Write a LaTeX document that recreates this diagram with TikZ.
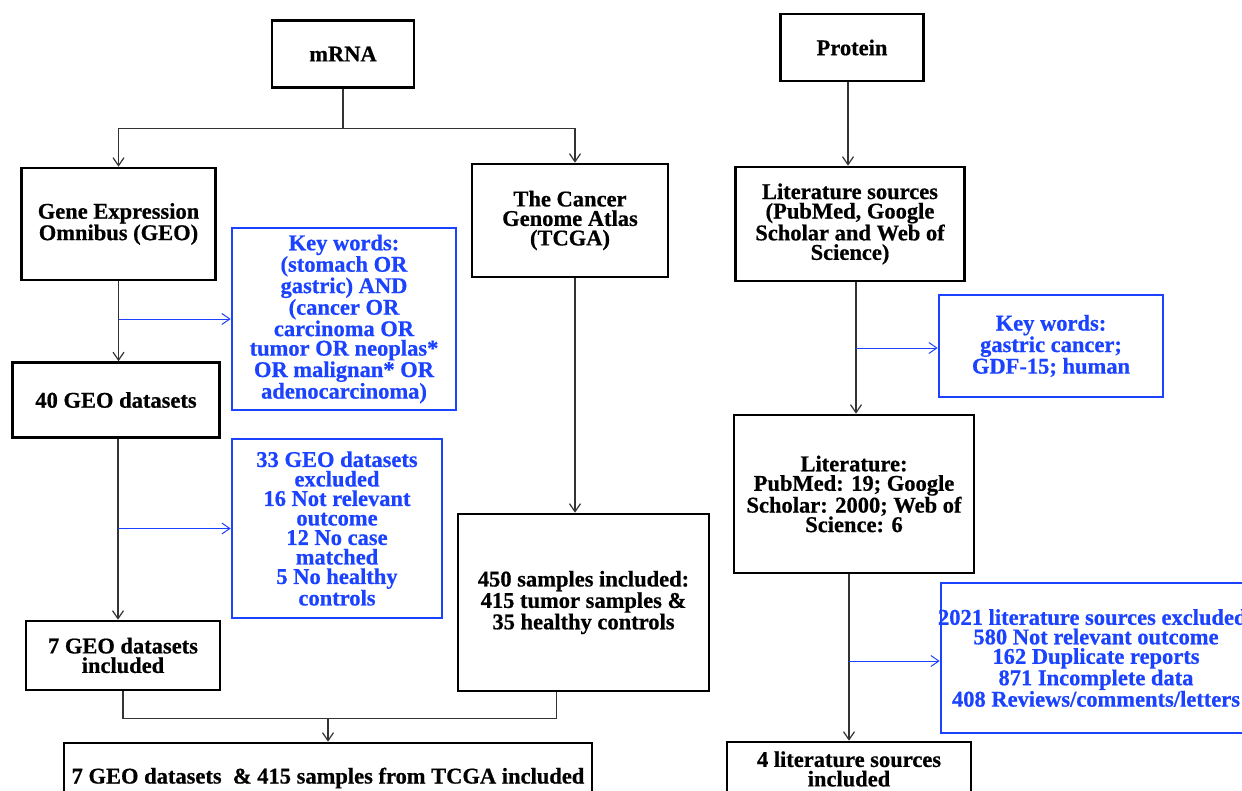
\documentclass[tikz,border=0pt]{standalone}
\usepackage{fontspec}
\setmainfont{Liberation Serif}[BoldFeatures={FakeBold=0.6}]
\usepackage{tikz}
\usetikzlibrary{arrows.meta, positioning}

\definecolor{keyblue}{RGB}{26,66,255}

\begin{document}
\begin{tikzpicture}[
  x=1pt, y=-1pt,
  box/.style     = {draw=black, line width=2.6pt, align=center,
                    font=\fontsize{22.5}{19.5}\selectfont\bfseries,
                    inner sep=2pt},
  bluebox/.style = {box, draw=keyblue, text=keyblue},
  conn/.style    = {-{Straight Barb[length=8pt,width=11pt]}, line width=1.2pt, black!80},
  seg/.style     = {line width=1.2pt, black!80},
  bluearr/.style = {-{Straight Barb[length=8pt,width=11pt]}, line width=1pt, keyblue}
]
\useasboundingbox (0,0) rectangle (1242,790);
\clip (0,0) rectangle (1242,790);

% mRNA branch
\node[box, minimum width=142, minimum height=67] (mrna) at (343,54) {mRNA};
\node[box, minimum width=194, minimum height=112] (geo) at (118.5,224)
  {Gene Expression\\Omnibus (GEO)};
\node[box, minimum width=196, minimum height=113] (tcga) at (570,220.5)
  {The Cancer\\Genome Atlas\\(TCGA)};
\node[bluebox, minimum width=224, minimum height=182] (key1) at (344,319)
  {Key words:\\(stomach OR\\gastric) AND\\(cancer OR\\carcinoma OR\\tumor OR neoplas*\\OR malignan* OR\\adenocarcinoma)};
\node[box, minimum width=207, minimum height=75] (geo40) at (116,400) {40 GEO datasets};
\node[bluebox, minimum width=210, minimum height=179] (excl1) at (337,528.5)
  {33 GEO datasets\\excluded\\16 Not relevant\\outcome\\12 No case\\matched\\5 No healthy\\controls};
\node[box, minimum width=194, minimum height=69] (geo7) at (123,655.5)
  {7 GEO datasets\\included};
\node[box, minimum width=251, minimum height=177] (tcga450) at (583.5,602.5)
  {450 samples included:\\415 tumor samples \&\\35 healthy controls};
\node[box, minimum width=528, minimum height=70] (merged) at (328,778)
  {7 GEO datasets~~\& 415 samples from TCGA included};

% protein branch
\node[box, minimum width=143, minimum height=67] (protein) at (852,47.5) {Protein};
\node[box, minimum width=229, minimum height=114] (litsrc) at (850,224)
  {Literature sources\\(PubMed, Google\\Scholar and Web of\\Science)};
\node[bluebox, minimum width=224, minimum height=102] (key2) at (1051,346)
  {Key words:\\gastric cancer;\\GDF-15; human};
\node[box, minimum width=240, minimum height=158] (lit) at (854,494)
  {Literature:\\PubMed: 19; Google\\Scholar: 2000; Web of\\Science: 6};
\node[bluebox, minimum width=310, minimum height=150] (excl2) at (1096,658)
  {\makebox[290pt]{2021 literature sources excluded:}\\580 Not relevant outcome\\162 Duplicate reports\\871 Incomplete data\\408 Reviews/comments/letters};
\node[box, minimum width=244, minimum height=54] (lit4) at (849,769)
  {4 literature sources\\included};

% connectors
\draw[seg] (mrna.south) -- ++(0,40) coordinate (split);
\draw[conn] (split) -| (geo.north);
\draw[conn] (split) -| ([xshift=5pt]tcga.north);
\draw[conn] (geo.south) -- (geo.south |- geo40.north);
\draw[bluearr] (geo.south |- key1.west) -- (key1.west);
\draw[conn] ([xshift=2pt]geo40.south) -- ([xshift=2pt]geo40.south |- geo7.north);
\draw[bluearr] ([xshift=2pt]geo40.south |- excl1.west) -- (excl1.west);
\draw[conn] ([xshift=5pt]tcga.south) -- ([xshift=5pt]tcga.south |- tcga450.north);
\draw[seg] (geo7.south) -- ++(0,27) coordinate (join)
  -| ([xshift=-27pt]tcga450.south);
\draw[conn] (join -| merged.north) -- (merged.north);

\draw[conn] ([xshift=-4pt]protein.south) -- ([xshift=-4pt]protein.south |- litsrc.north);
\draw[conn] ([xshift=6pt]litsrc.south) -- ([xshift=6pt]litsrc.south |- lit.north);
\draw[bluearr] ([xshift=6pt]litsrc.south |- 0,348) -- (key2.west |- 0,348);
\draw[conn] ([xshift=-5pt]lit.south) -- ([xshift=-5pt]lit.south |- lit4.north);
\draw[bluearr] ([xshift=-5pt]lit.south |- 0,661) -- (excl2.west |- 0,661);
\end{tikzpicture}
\end{document}
